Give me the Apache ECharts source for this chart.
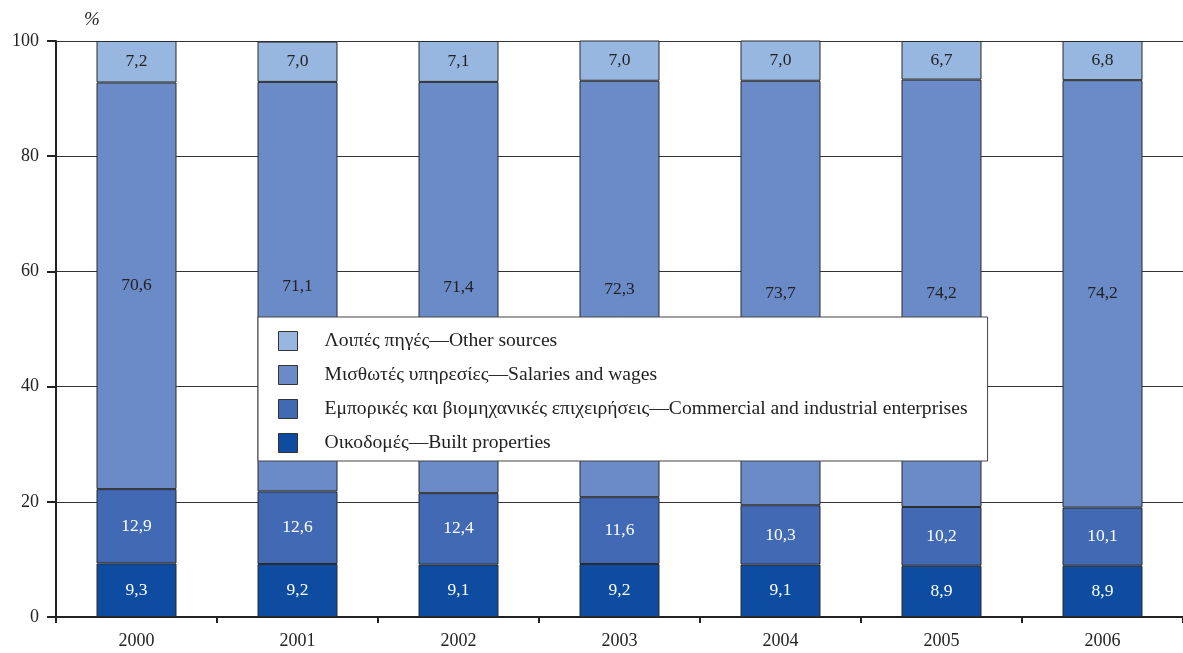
<!DOCTYPE html>
<html>
<head>
<meta charset="utf-8">
<script src="https://cdn.jsdelivr.net/npm/echarts@6/dist/echarts.min.js"></script>
<style>html,body{margin:0;padding:0;background:#fff}#c{width:1183px;height:653px}</style>
</head>
<body>
<div id="c"></div>
<script>
const years = ['2000','2001','2002','2003','2004','2005','2006'];
const builtProperties = [9.3, 9.2, 9.1, 9.2, 9.1, 8.9, 8.9];
const commercialIndustrial = [12.9, 12.6, 12.4, 11.6, 10.3, 10.2, 10.1];
const salariesWages = [70.6, 71.1, 71.4, 72.3, 73.7, 74.2, 74.2];
const otherSources = [7.2, 7.0, 7.1, 7.0, 7.0, 6.7, 6.8];
const yTicks = [0, 20, 40, 60, 80, 100];

const names = [
  'Οικοδομές—Built properties',
  'Εμπορικές και βιομηχανικές επιχειρήσεις—Commercial and industrial enterprises',
  'Μισθωτές υπηρεσίες—Salaries and wages',
  'Λοιπές πηγές—Other sources'
];
const colors = ['#0d4ca0', '#4169b4', '#6a8bc8', '#97b7e0'];
const labelColors = ['#ffffff', '#ffffff', '#222222', '#222222'];
const datasets = [builtProperties, commercialIndustrial, salariesWages, otherSources];
const FONT = '"Liberation Serif", "DejaVu Serif", serif';

const series = datasets.map((d, i) => ({
  name: names[i],
  type: 'bar',
  stack: 'total',
  data: d,
  barWidth: 80,
  itemStyle: { color: colors[i], borderColor: '#2a2a2a', borderWidth: 1 },
  label: {
    show: true,
    position: 'inside',
    color: labelColors[i],
    fontFamily: FONT,
    fontSize: 17.5,
    formatter: p => p.value.toFixed(1).replace('.', ',')
  },
  emphasis: { disabled: true }
}));

const chart = echarts.init(document.getElementById('c'));
chart.setOption({
  animation: false,
  backgroundColor: '#ffffff',
  grid: { left: 56, top: 41, width: 1134, height: 576, containLabel: false },
  legend: {
    orient: 'vertical',
    left: 258,
    top: 317,
    data: names.slice().reverse(),
    backgroundColor: '#ffffff',
    borderColor: '#444',
    borderWidth: 1,
    padding: [14, 20, 8, 20],
    itemWidth: 19,
    itemHeight: 19,
    itemGap: 14,
    icon: 'rect',
    itemStyle: { borderColor: '#333', borderWidth: 1 },
    textStyle: { fontFamily: FONT, fontSize: 19.6, color: '#222', padding: [0, 0, 0, 22] },
    selectedMode: false
  },
  xAxis: {
    type: 'category',
    data: years,
    axisLine: { lineStyle: { color: '#222', width: 2 } },
    axisTick: { show: true, length: 6, lineStyle: { color: '#222', width: 2 } },
    axisLabel: { fontFamily: FONT, fontSize: 18, color: '#222', margin: 15 }
  },
  yAxis: {
    type: 'value',
    min: 0,
    max: 100,
    interval: 20,
    name: '%',
    nameLocation: 'end',
    nameGap: 12,
    nameTextStyle: { fontFamily: FONT, fontSize: 19, fontStyle: 'italic', color: '#222', align: 'left', padding: [0, 0, 0, 28] },
    axisLine: { show: true, lineStyle: { color: '#222', width: 2 } },
    axisTick: { show: true, length: 9, lineStyle: { color: '#222', width: 2 } },
    axisLabel: {
      fontFamily: FONT, fontSize: 18, color: '#222', margin: 17,
      formatter: v => (yTicks.includes(v) ? String(v) : '')
    },
    splitLine: { show: true, lineStyle: { color: '#333', width: 1 } }
  },
  series: series
});
</script>
</body>
</html>
